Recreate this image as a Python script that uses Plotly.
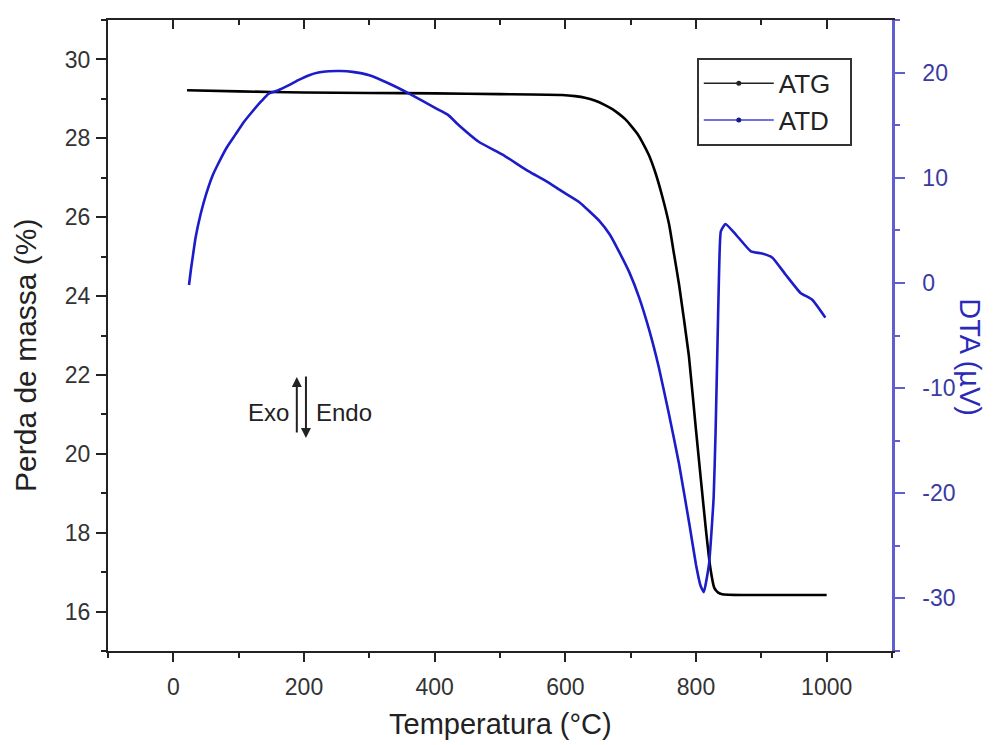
import plotly.graph_objects as go

# ---- data ----
atg_T = [21, 100, 200, 300, 400, 500, 595, 615, 630, 645, 660, 672, 682, 692, 700, 710,
         718, 728, 738, 748, 759, 766, 774, 789, 800, 815, 822, 828, 834, 840, 870, 1000]
atg_mass = [29.22, 29.19, 29.16, 29.15, 29.14, 29.12, 29.10, 29.07, 29.03, 28.96, 28.85,
            28.74, 28.62, 28.48, 28.33, 28.12, 27.9, 27.57, 27.12, 26.55, 25.8, 25.1,
            24.3, 22.5, 20.6, 18.1, 17.1, 16.6, 16.48, 16.44, 16.42, 16.42]

atd_T = [24, 27, 30, 34, 42, 50, 60, 70, 82, 95, 108, 121, 135, 146, 160, 177, 192, 208,
         222, 238, 256, 274, 300, 330, 361, 402, 420, 437, 468, 504, 544, 570, 595, 621,
         652, 668, 682, 698, 713, 728, 743, 758, 774, 790, 800, 807, 812, 820, 827, 830,
         833, 835, 838, 845, 861, 884, 901, 917, 937, 960, 978, 998]
atd_uv = [-0.2, 1.3, 2.6, 4.3, 6.6, 8.4, 10.2, 11.5, 12.9, 14.1, 15.3, 16.3, 17.3, 18.0,
          18.3, 18.8, 19.3, 19.75, 20.0, 20.13, 20.15, 20.07, 19.75, 18.96, 18.0, 16.6,
          16.0, 15.0, 13.4, 12.2, 10.6, 9.7, 8.7, 7.7, 5.9, 4.6, 3.0, 1.0, -1.4, -4.4,
          -8.0, -12.3, -17.2, -23.0, -26.8, -28.8, -29.4, -26.7, -20.4, -14.1, -5.5, 0.2,
          4.9, 5.6, 4.6, 3.0, 2.8, 2.4, 0.8, -0.95, -1.6, -3.3]

x_ticks = [0, 200, 400, 600, 800, 1000]
y_ticks = [16, 18, 20, 22, 24, 26, 28, 30]
y2_ticks = [-30, -20, -10, 0, 10, 20]
y2_text = ["-30", "-20", "-10", "0", "10", "20"]

FONT = "Liberation Sans, Arial, sans-serif"
BLUE = "#1c1cc8"
AXBLUE = "#5f5fcf"
TICKBLUE = "#3a3aa2"

fig = go.Figure()
fig.add_trace(go.Scatter(x=atg_T, y=atg_mass, mode="lines",
                         line=dict(color="#000000", width=2.6, shape="spline", smoothing=0.4),
                         showlegend=False, yaxis="y"))
fig.add_trace(go.Scatter(x=atd_T, y=atd_uv, mode="lines",
                         line=dict(color=BLUE, width=2.6, shape="spline", smoothing=0.4),
                         showlegend=False, yaxis="y2"))
# legend entries (line with dot)
fig.add_trace(go.Scatter(x=[None], y=[None], mode="lines+markers", name="ATG\u00a0\u00a0",
                         line=dict(color="#222222", width=1.5), marker=dict(size=5, color="#222222")))
fig.add_trace(go.Scatter(x=[None], y=[None], mode="lines+markers", name="ATD\u00a0\u00a0",
                         line=dict(color="#4040d8", width=1.5), marker=dict(size=5, color="#1a1a8a")))
# top mirror axis (inside ticks)
fig.add_trace(go.Scatter(x=[], y=[], xaxis="x2", showlegend=False, hoverinfo="skip"))

fig.update_layout(
    width=985, height=737,
    margin=dict(l=100, r=101, t=12, b=94),
    paper_bgcolor="white", plot_bgcolor="white",
    font=dict(family=FONT, size=23, color="#333333"),
    showlegend=True,
    legend=dict(x=0.751, y=0.94, xanchor="left", yanchor="top",
                bgcolor="white", bordercolor="#333333", borderwidth=2,
                font=dict(size=26, color="#222222"), itemwidth=70,
                tracegroupgap=0),
    xaxis=dict(range=[-100, 1100], tickvals=x_ticks, ticks="outside", ticklen=9,
               tickwidth=2, tickcolor="#222222", showline=True, linecolor="#222222",
               linewidth=2, showgrid=False, zeroline=False, ticklabelstandoff=5,
               minor=dict(dtick=100, tick0=0, ticks="outside", ticklen=5, tickwidth=2,
                          tickcolor="#222222"),
               tickfont=dict(size=23, color="#333333")),
    xaxis2=dict(range=[-100, 1100], overlaying="x", side="top", anchor="y",
                tickvals=x_ticks, ticks="inside", ticklen=9, tickwidth=2,
                tickcolor="#222222", showline=True, linecolor="#222222", linewidth=2,
                showticklabels=False, showgrid=False, zeroline=False,
                minor=dict(dtick=100, tick0=0, ticks="inside", ticklen=5, tickwidth=2,
                           tickcolor="#222222")),
    yaxis=dict(range=[15, 31], tickvals=y_ticks, ticks="outside", ticklen=10, tickwidth=2,
               tickcolor="#222222", showline=True, linecolor="#222222", linewidth=2,
               showgrid=False, zeroline=False, ticklabelstandoff=1,
               minor=dict(dtick=1, tick0=15, ticks="outside", ticklen=5, tickwidth=2,
                          tickcolor="#222222"),
               tickfont=dict(size=23, color="#333333")),
    yaxis2=dict(range=[-35, 25], overlaying="y", side="right", anchor="x",
                tickvals=y2_ticks, ticktext=y2_text, ticks="outside", ticklen=10,
                tickwidth=2, tickcolor=AXBLUE, showline=True, linecolor=AXBLUE,
                linewidth=2.5, showgrid=False, zeroline=False, ticklabelstandoff=13,
                minor=dict(dtick=5, tick0=-35, ticks="outside", ticklen=5, tickwidth=2,
                           tickcolor=AXBLUE),
                tickfont=dict(size=23, color=TICKBLUE)),
)

annotations = [
    dict(text="Temperatura (°C)", xref="paper", yref="paper", x=0.5006, y=-0.115,
         xanchor="center", yanchor="middle", showarrow=False,
         font=dict(size=29, color="#222222")),
    dict(text="Perda de massa (%)", xref="paper", yref="paper", x=-0.106, y=0.469,
         xanchor="center", yanchor="middle", showarrow=False, textangle=-90,
         font=dict(size=30, color="#222222")),
    dict(text="DTA (µV)", xref="paper", yref="paper", x=1.099, y=0.466,
         xanchor="center", yanchor="middle", showarrow=False, textangle=90,
         font=dict(size=29, color="#2a2ab8")),
    dict(text="Exo", xref="x", yref="y", x=180, y=21.05, xanchor="right", yanchor="middle",
         showarrow=False, font=dict(size=24, color="#222222")),
    dict(text="Endo", xref="x", yref="y", x=216, y=21.05, xanchor="left", yanchor="middle",
         showarrow=False, font=dict(size=24, color="#222222")),
    # up arrow (Exo)
    dict(x=189, y=21.95, ax=189, ay=20.5, xref="x", yref="y", axref="x", ayref="y",
         text="", showarrow=True, arrowhead=2, arrowsize=1, arrowwidth=2, arrowcolor="#222222"),
    # down arrow (Endo)
    dict(x=203, y=20.4, ax=203, ay=22.0, xref="x", yref="y", axref="x", ayref="y",
         text="", showarrow=True, arrowhead=2, arrowsize=1, arrowwidth=2, arrowcolor="#222222"),
]
fig.update_layout(annotations=annotations)

fig.write_html("out.html")
